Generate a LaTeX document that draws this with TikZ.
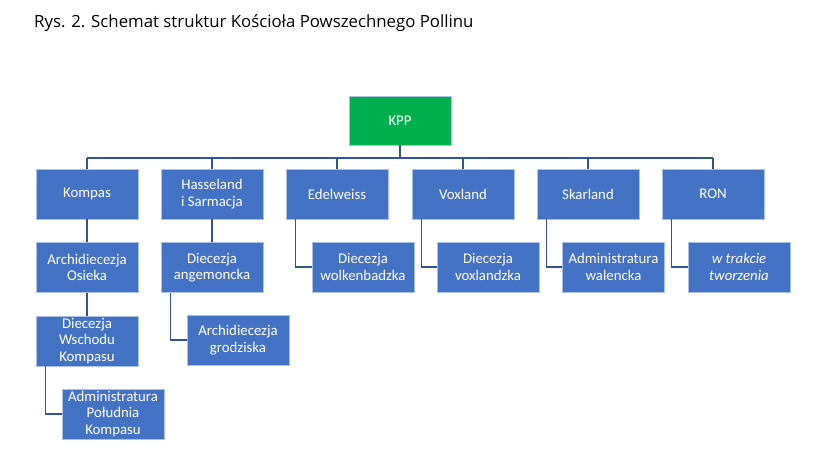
\documentclass[tikz,border=0pt]{standalone}
\usepackage{fontspec}
\setmainfont{Carlito}
\newfontfamily\titlefont{Open Sans}
\usepackage{tikz}
\usetikzlibrary{positioning, calc}

\definecolor{boxblue}{RGB}{68,114,196}
\definecolor{boxedge}{RGB}{170,192,228}
\definecolor{kppgreen}{RGB}{0,176,80}
\definecolor{linkblue}{RGB}{47,85,151}

\tikzset{
    orgbox/.style={rectangle, fill=boxblue, draw=boxedge, line width=0.8pt,
        minimum width=102pt, minimum height=50pt, inner sep=0pt,
        align=center, text=white, font=\fontsize{14.8}{16.5}\selectfont},
    link/.style={draw=linkblue, line width=1.6pt}
}

\begin{document}
\begin{tikzpicture}[x=1pt, y=-1pt]
    \useasboundingbox (0,0) rectangle (839,450);
    \node[anchor=base west, inner sep=0pt, font=\titlefont\fontsize{16.8}{19}\selectfont] (title) at (34,27)
        {Rys. 2. Schemat struktur Kościoła Powszechnego Pollinu};

    \node[orgbox, fill=kppgreen, minimum height=49pt] (kpp) at (400,120.5) {KPP};
    \coordinate (bus) at (400,158);

    \node[orgbox] (kompas) at (87,194) {Kompas};
    \node[orgbox] (hass) at (212,194) {Hasseland\\i Sarmacja};
    \node[orgbox] (edel) at (337,194) {Edelweiss};
    \node[orgbox] (vox) at (463,194) {Voxland};
    \node[orgbox] (skar) at (588,194) {Skarland};
    \node[orgbox] (ron) at (713,194) {RON};

    \node[orgbox] (osieka) at (87,267.5) {Archidiecezja\\Osieka};
    \node[orgbox] (wschod) at (87,341) {Diecezja\\Wschodu\\Kompasu};
    \node[orgbox] (poludnie) at (113,414) {Administratura\\Południa\\Kompasu};
    \node[orgbox] (angem) at (212,267.5) {Diecezja\\angemoncka};
    \node[orgbox] (grodz) at (238,340) {Archidiecezja\\grodziska};
    \node[orgbox] (wolken) at (363,267) {Diecezja\\wolkenbadzka};
    \node[orgbox] (voxdz) at (488,267) {Diecezja\\voxlandzka};
    \node[orgbox] (walen) at (613.5,267) {Administratura\\walencka};
    \node[orgbox] (trakcie) at (739,267) {\itshape w trakcie\\\itshape tworzenia};

    \draw[link] (kpp.south) -- (bus);
    \draw[link] (bus -| kompas.north) -- (bus -| ron.north);
    \foreach \n in {kompas, hass, edel, vox, skar, ron}
        \draw[link] (bus -| \n.north) -- (\n.north);

    \draw[link] (kompas) -- (osieka);
    \draw[link] (osieka) -- (wschod);
    \draw[link] (hass) -- (angem);
    \draw[link] ([xshift=10pt]wschod.south west) |- (poludnie.west);
    \draw[link] ([xshift=10pt]angem.south west) |- (grodz.west);
    \draw[link] ([xshift=10pt]edel.south west) |- (wolken.west);
    \draw[link] ([xshift=10pt]vox.south west) |- (voxdz.west);
    \draw[link] ([xshift=10pt]skar.south west) |- (walen.west);
    \draw[link] ([xshift=10pt]ron.south west) |- (trakcie.west);
\end{tikzpicture}
\end{document}
